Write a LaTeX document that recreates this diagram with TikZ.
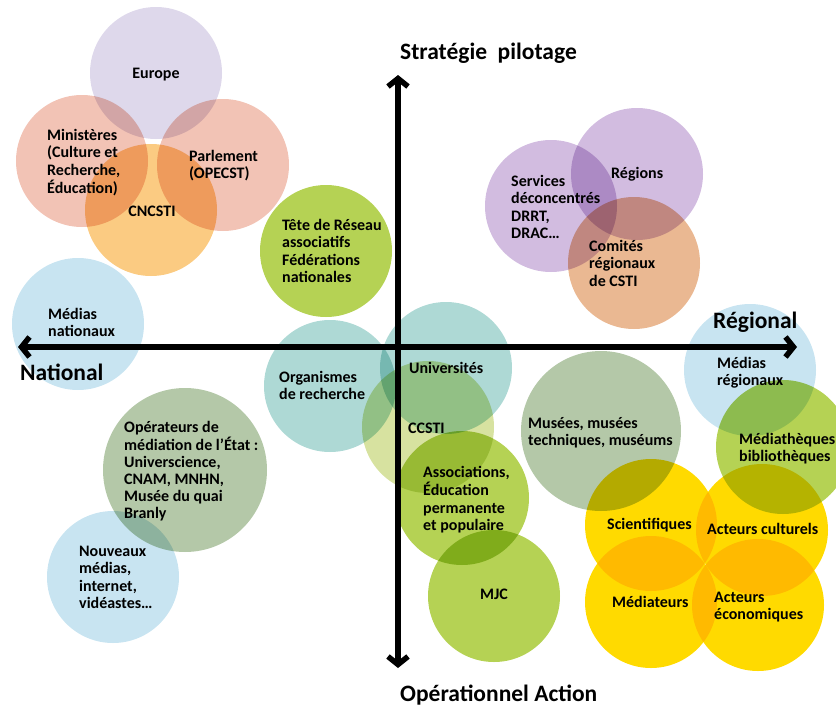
\documentclass[tikz,border=0pt]{standalone}
\usepackage{fontspec}
\setmainfont{Carlito}
\usetikzlibrary{arrows.meta}
\definecolor{ceu}{RGB}{222,216,235}
\definecolor{csal}{RGB}{242,195,181}
\definecolor{corg}{RGB}{251,203,130}
\definecolor{cgrn}{RGB}{181,210,84}
\definecolor{cblu}{RGB}{200,228,241}
\definecolor{cteal}{RGB}{174,217,213}
\definecolor{csage}{RGB}{180,200,168}
\definecolor{clgt}{RGB}{215,226,160}
\definecolor{cyel}{RGB}{255,218,0}
\definecolor{cpur}{RGB}{210,188,224}
\definecolor{cpch}{RGB}{234,184,146}
\newcommand{\mltext}[1]{\begin{tabular}[t]{@{}l@{}}#1\end{tabular}}
\begin{document}
\begin{tikzpicture}[x=1pt,y=-1pt,
  circ/.style={circle,draw=none,inner sep=0pt,minimum size=132pt},
  lbl/.style={anchor=base west,inner sep=0pt,font=\fontsize{16}{17.6}\selectfont\bfseries},
  lblc/.style={lbl,anchor=base},
  axlbl/.style={anchor=base west,inner sep=0pt,font=\fontsize{23.5}{27}\selectfont\bfseries},
  axis/.style={line width=5.5pt,{Straight Barb[length=8pt,width=20pt]}-{Straight Barb[length=8pt,width=20pt]}}]
\useasboundingbox (0,0) rectangle (836,707);
\begin{scope}[blend group=multiply]
\node[circ,fill=ceu] (c-eu) at (156,73) {};
\node[circ,fill=csal] (c-min) at (82,161) {};
\node[circ,fill=csal] (c-parl) at (223,165) {};
\node[circ,fill=corg] (c-cnc) at (151,210) {};
\node[circ,fill=cgrn] (c-tete) at (326,251) {};
\node[circ,fill=cblu] (c-mnat) at (78,324) {};
\node[circ,fill=cteal] (c-org) at (330,386) {};
\node[circ,fill=csage,minimum size=164pt] (c-ope) at (185,470) {};
\node[circ,fill=cblu] (c-nouv) at (113,577) {};
\node[circ,fill=cteal] (c-univ) at (446,368) {};
\node[circ,fill=clgt] (c-ccsti) at (428,427) {};
\node[circ,fill=cgrn,minimum size=134pt] (c-assoc) at (462,498) {};
\node[circ,fill=cgrn] (c-mjc) at (494,596) {};
\node[circ,fill=csage,minimum size=160pt] (c-mus) at (601,431) {};
\node[circ,fill=cblu] (c-mreg) at (750,370) {};
\node[circ,fill=cgrn,minimum size=134pt] (c-mth) at (783,447) {};
\node[circ,fill=cyel] (c-sci) at (651,525) {};
\node[circ,fill=cyel] (c-cult) at (762,530) {};
\node[circ,fill=cyel] (c-med) at (651,602) {};
\node[circ,fill=cyel] (c-eco) at (758,605) {};
\node[circ,fill=cpur] (c-serv) at (551,206) {};
\node[circ,fill=cpur] (c-reg) at (637,174) {};
\node[circ,fill=cpch] (c-com) at (634,263) {};
\end{scope}
\coordinate (ax-top) at (398,75);
\coordinate (ax-bot) at (398,668);
\coordinate (ax-left) at (18,347);
\coordinate (ax-right) at (797,347);
\draw[axis] (ax-top) -- (ax-bot);
\draw[axis] (ax-left) -- (ax-right);
\node[axlbl] (t-strat) at (400,59) {Stratégie\ \ pilotage};
\node[axlbl] (t-nat) at (20,380) {National};
\node[axlbl] (t-reg) at (713,328) {Régional};
\node[axlbl] (t-op) at (400,701) {Opérationnel Action};
\node[lblc] (l-eu) at (156,78) {Europe};
\node[lbl] (l-min) at (47,140) {\mltext{Ministères\\(Culture et\\Recherche,\\Éducation)}};
\node[lbl] (l-parl) at (189,161) {\mltext{Parlement\\(OPECST)}};
\node[lblc] (l-cnc) at (152,216) {CNCSTI};
\node[lbl] (l-tete) at (282,230) {\mltext{Tête de Réseau\\associatifs\\Fédérations\\nationales}};
\node[lbl] (l-mnat) at (48,319) {\mltext{Médias\\nationaux}};
\node[lbl] (l-org) at (279,382) {\mltext{Organismes\\de recherche}};
\node[lbl,font=\fontsize{16}{16.9}\selectfont\bfseries] (l-ope) at (124,432) {\mltext{Opérateurs de\\médiation de l’État :\\Universcience,\\CNAM, MNHN,\\Musée du quai\\Branly}};
\node[lbl] (l-nouv) at (79,556) {\mltext{Nouveaux\\médias,\\internet,\\vidéastes…}};
\node[lbl] (l-univ) at (409,373) {Universités};
\node[lbl] (l-ccsti) at (408,433) {CCSTI};
\node[lbl] (l-assoc) at (423,477) {\mltext{Associations,\\Éducation\\permanente\\et populaire}};
\node[lblc] (l-mjc) at (494,599) {MJC};
\node[lbl] (l-mus) at (528,428) {\mltext{Musées, musées\\techniques, muséums}};
\node[lbl] (l-mreg) at (717,368) {\mltext{Médias\\régionaux}};
\node[lbl] (l-mth) at (739,444) {\mltext{Médiathèques\\bibliothèques}};
\node[lbl] (l-sci) at (607,529) {Scientifiques};
\node[lbl] (l-cult) at (707,534) {Acteurs culturels};
\node[lbl] (l-med) at (612,607) {Médiateurs};
\node[lbl] (l-eco) at (714,602) {\mltext{Acteurs\\économiques}};
\node[lbl] (l-serv) at (511,186) {\mltext{Services\\déconcentrés\\DRRT,\\DRAC…}};
\node[lbl] (l-reg) at (611,178) {Régions};
\node[lbl] (l-com) at (589,251) {\mltext{Comités\\régionaux\\de CSTI}};
\end{tikzpicture}
\end{document}
